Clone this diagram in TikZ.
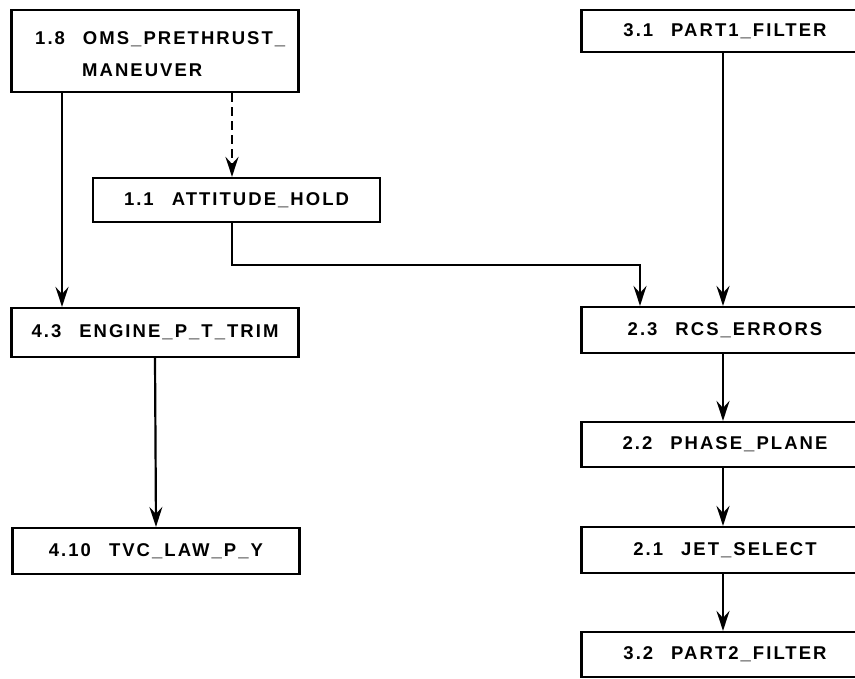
\documentclass[tikz,border=0pt]{standalone}
\usepackage{fontspec}
\setmainfont{Liberation Sans}[LetterSpace=11]
\usetikzlibrary{arrows.meta}
\begin{document}
\begin{tikzpicture}[x=1pt,y=-1pt,
  box/.style={draw,line width=2.2pt,inner sep=0pt,minimum width=287pt,
    font=\fontsize{18.5}{32}\selectfont\bfseries},
  lbl/.style={inner sep=0pt,font=\fontsize{18.5}{32}\selectfont\bfseries},
  arr/.style={line width=2.2pt,-{Stealth[length=20pt,width=13pt,inset=7pt]}},
  dsh/.style={arr,dash pattern=on 9pt off 5pt}]
\useasboundingbox (0,0) rectangle (855,679);
% left column
\node[box,minimum height=82pt] (b18) at (155,51) {};
\node[lbl,anchor=base west] (t18a) at (35,45) {1.8\hspace{18pt}OMS\_PRETHRUST\_};
\node[lbl,anchor=base west] (t18b) at (82,77) {MANEUVER};
\node[box,minimum height=44pt] (b11) at (236.5,200) {1.1\hspace{18pt}ATTITUDE\_HOLD};
\node[box,minimum height=49pt] (b43) at (155,332.5) {4.3\hspace{18pt}ENGINE\_P\_T\_TRIM};
\node[box,minimum height=46pt] (b410) at (156,551) {4.10\hspace{18pt}TVC\_LAW\_P\_Y};
% right column
\node[box,minimum height=42pt] (b31) at (725,31) {3.1\hspace{18pt}PART1\_FILTER};
\node[box,minimum height=46pt] (b23) at (725,330) {2.3\hspace{18pt}RCS\_ERRORS};
\node[box,minimum height=45pt] (b22) at (725,444.5) {2.2\hspace{18pt}PHASE\_PLANE};
\node[box,minimum height=46pt] (b21) at (725,550) {2.1\hspace{18pt}JET\_SELECT};
\node[box,minimum height=45pt] (b32) at (725,654.5) {3.2\hspace{18pt}PART2\_FILTER};
% helper x positions
\coordinate (xA) at (62,0);
\coordinate (xB) at (232,0);
\coordinate (xC) at (640,0);
\coordinate (xD) at (723,0);
\coordinate (bend1) at (232,265);
\coordinate (bend2) at (640,265);
% connectors
\draw[arr] (b18.south -| xA) -- (b43.north -| xA);
\draw[dsh] (b18.south -| xB) -- (b11.north -| xB);
\draw[arr] (b11.south -| xB) -- (bend1) -- (bend2) -- (b23.north -| xC);
\draw[arr] (b31.south -| xD) -- (b23.north -| xD);
\draw[arr] (b43.south) -- (b410.north);
\draw[arr] (b23.south -| xD) -- (b22.north -| xD);
\draw[arr] (b22.south -| xD) -- (b21.north -| xD);
\draw[arr] (b21.south -| xD) -- (b32.north -| xD);
\end{tikzpicture}
\end{document}
